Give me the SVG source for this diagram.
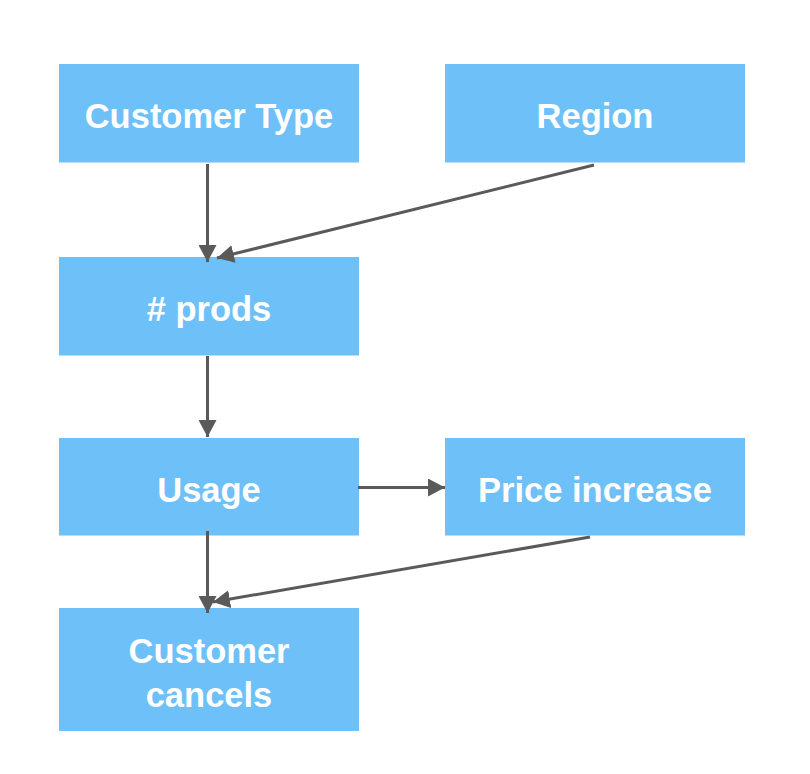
<svg xmlns="http://www.w3.org/2000/svg" width="810" height="774" viewBox="0 0 810 774">
<style>
.box{fill:#6EC0F8;}
.lbl{font-family:"Liberation Sans",Arial,sans-serif;font-weight:bold;font-size:34.5px;fill:#ffffff;text-anchor:middle;}
.edge{stroke:#5a5a5a;stroke-width:3;fill:none;marker-end:url(#arr);}
</style>
<defs>
<marker id="arr" markerUnits="userSpaceOnUse" markerWidth="18" markerHeight="18" viewBox="0 0 18 18" refX="17" refY="9" orient="auto">
<path d="M0,0 L17,9 L0,18 Z" fill="#5a5a5a"/>
</marker>
</defs>
<rect width="810" height="774" fill="#ffffff"/>
<g id="customer-type"><rect class="box" x="59" y="64" width="300" height="98.5"/><text class="lbl" x="209" y="128">Customer Type</text></g>
<g id="region"><rect class="box" x="445" y="64" width="300" height="98.5"/><text class="lbl" x="595" y="128">Region</text></g>
<g id="prods"><rect class="box" x="59" y="257" width="300" height="98.5"/><text class="lbl" x="209" y="321"># prods</text></g>
<g id="usage"><rect class="box" x="59" y="438" width="300" height="97.5"/><text class="lbl" x="209" y="502">Usage</text></g>
<g id="price-increase"><rect class="box" x="445" y="438" width="300" height="97.5"/><text class="lbl" x="595" y="502">Price increase</text></g>
<g id="customer-cancels"><rect class="box" x="59" y="608" width="300" height="123"/><text class="lbl" x="209" y="663">Customer</text><text class="lbl" x="209" y="707">cancels</text></g>
<g id="connectors">
<line class="edge" x1="207.5" y1="164" x2="207.5" y2="262"/>
<line class="edge" x1="594" y1="165" x2="217" y2="258"/>
<line class="edge" x1="207.5" y1="356" x2="207.5" y2="437"/>
<line class="edge" x1="358" y1="487.5" x2="445" y2="487.5"/>
<line class="edge" x1="207.5" y1="531" x2="207.5" y2="613"/>
<line class="edge" x1="590" y1="537" x2="213" y2="602"/>
</g>
</svg>
